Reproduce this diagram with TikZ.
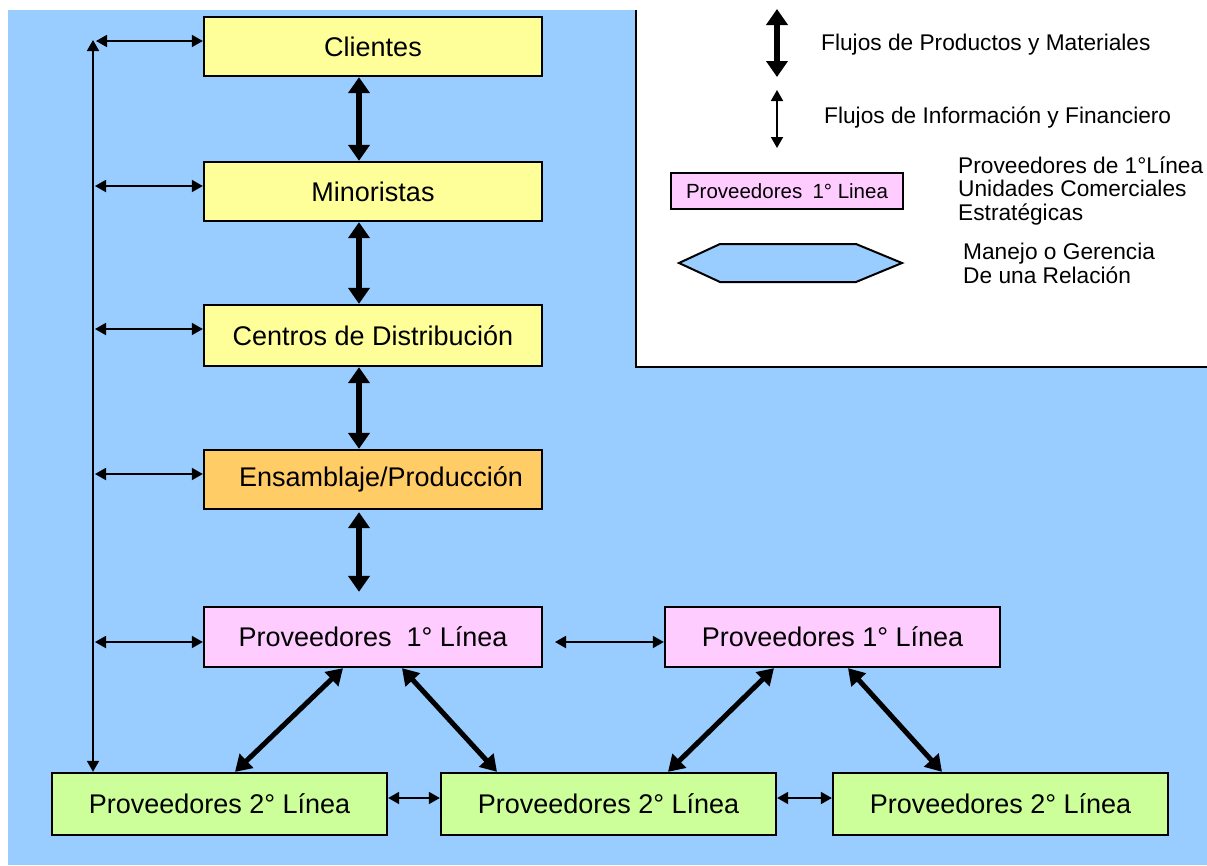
\documentclass[tikz,border=0pt]{standalone}
\usepackage{fontspec}
\setmainfont{Liberation Sans}
\usetikzlibrary{arrows.meta,calc}
\definecolor{bgblue}{HTML}{99CCFF}
\definecolor{byel}{HTML}{FFFF99}
\definecolor{bora}{HTML}{FFCC66}
\definecolor{bpink}{HTML}{FFCCFF}
\definecolor{bgreen}{HTML}{CCFF99}
\tikzset{
  box/.style={draw=black, line width=2.3pt, minimum width=338pt, minimum height=59pt, inner sep=0pt,
    font=\fontsize{27}{29}\selectfont},
  wbox/.style={box, minimum width=335pt, minimum height=60pt},
  thickarr/.style={line width=6pt, {Triangle[width=21pt,length=16pt]}-{Triangle[width=21pt,length=16pt]}},
  diagarr/.style={line width=5pt, {Triangle[width=19pt,length=16pt]}-{Triangle[width=19pt,length=16pt]}},
  thinarr/.style={line width=1.8pt, {Triangle[width=12pt,length=11pt]}-{Triangle[width=12pt,length=11pt]}},
  legtext/.style={font=\fontsize{22.7}{23.5}\selectfont, inner sep=0pt, align=left, anchor=west}
}
\begin{document}
\begin{tikzpicture}[x=1pt,y=-1pt]
\useasboundingbox (0,0) rectangle (1207,865);
\fill[white] (0,0) rectangle (1207,865);
\fill[bgblue] (8,10) rectangle (1207,865);
% legend panel
\fill[white] (636,0) rectangle (1207,367);
\draw[line width=2pt] (636,10) -- (636,367) -- (1207,367);

% main boxes
\node[box, fill=byel] (cli) at (373,46.5) {Clientes};
\node[box, fill=byel] (min) at (373,191.5) {Minoristas};
\node[box, fill=byel, minimum height=61pt] (cen) at (373,335.5) {Centros de Distribución};
\node[box, fill=bora] (ens) at (373,479.5) {\hspace{16pt}Ensamblaje/Producción};
\node[box, fill=bpink, minimum height=60pt] (p1l) at (373,637) {Proveedores\hspace{0.55em}1° Línea};
\node[wbox, fill=bpink] (p1r) at (832.5,637) {Proveedores 1° Línea};
\node[wbox, fill=bgreen, minimum height=62pt] (p2l) at (219.5,804) {Proveedores 2° Línea};
\node[wbox, fill=bgreen, minimum height=62pt] (p2m) at (608.5,804) {Proveedores 2° Línea};
\node[wbox, fill=bgreen, minimum height=62pt] (p2r) at (1000.5,804) {Proveedores 2° Línea};

% thick vertical arrows
\draw[thickarr] ([xshift=-14pt]cli.south) -- ([xshift=-14pt]min.north);
\draw[thickarr] ([xshift=-14pt]min.south) -- ([xshift=-14pt]cen.north);
\draw[thickarr] ([xshift=-14pt]cen.south) -- ([xshift=-14pt]ens.north);
\draw[thickarr] ([xshift=-14pt,yshift=-2pt]ens.south) -- ([xshift=-14pt,yshift=14pt]p1l.north);

% left spine
\coordinate (sTop) at (93,40);
\draw[thinarr] (sTop |- p2l.north) -- (sTop);
\coordinate (l1) at (96,41);
\coordinate (l2) at (95,186);
\coordinate (l3) at (95,329);
\coordinate (l4) at (95,474);
\coordinate (l5) at (95,642);
\draw[thinarr] (l1) -- (l1 -| cli.west);
\draw[thinarr] (l2) -- (l2 -| min.west);
\draw[thinarr] (l3) -- (l3 -| cen.west);
\draw[thinarr] (l4) -- (l4 -| ens.west);
\draw[thinarr] (l5) -- (l5 -| p1l.west);

% horizontal links
\coordinate (h1) at (555,642);
\draw[thinarr] (h1) -- (h1 -| p1r.west);
\coordinate (h2) at (0,798);
\draw[thinarr] (h2 -| p2l.east) -- (h2 -| p2m.west);
\draw[thinarr] (h2 -| p2m.east) -- (h2 -| p2r.west);

% diagonals
\draw[diagarr] ([xshift=-30pt]p1l.south) -- ([xshift=15.5pt]p2l.north);
\draw[diagarr] ([xshift=29pt]p1l.south) -- ([xshift=-111.5pt]p2m.north);
\draw[diagarr] ([xshift=-58.5pt]p1r.south) -- ([xshift=59.5pt]p2m.north);
\draw[diagarr] ([xshift=15.5pt]p1r.south) -- ([xshift=-58.5pt]p2r.north);

% legend
\coordinate (la1) at (777,9);
\coordinate (la2) at (777,77);
\draw[thickarr] (la1) -- (la2);
\node[legtext] (t1) at (821,45) {Flujos de Productos y Materiales};
\coordinate (lb1) at (777,90);
\coordinate (lb2) at (777,148);
\draw[thinarr] (lb1) -- (lb2);
\node[legtext] (t2) at (824,117) {Flujos de Información y Financiero};
\node[draw=black, line width=2pt, fill=bpink, minimum width=232pt, minimum height=36pt, inner sep=0pt,
  font=\fontsize{20.5}{21}\selectfont] (lp) at (787,191) {Proveedores\hspace{0.5em}1° Linea\hspace{8pt}};
\node[legtext] (t3) at (958,190.5) {Proveedores de 1°Línea\\Unidades Comerciales\\Estratégicas};
\draw[line width=2pt, fill=bgblue] (679,263) -- (720,244) -- (856,244) -- (902,263) -- (856,282) -- (720,282) -- cycle;
\node[legtext] (t4) at (963,263.5) {Manejo o Gerencia\\De una Relación};
\end{tikzpicture}
\end{document}
